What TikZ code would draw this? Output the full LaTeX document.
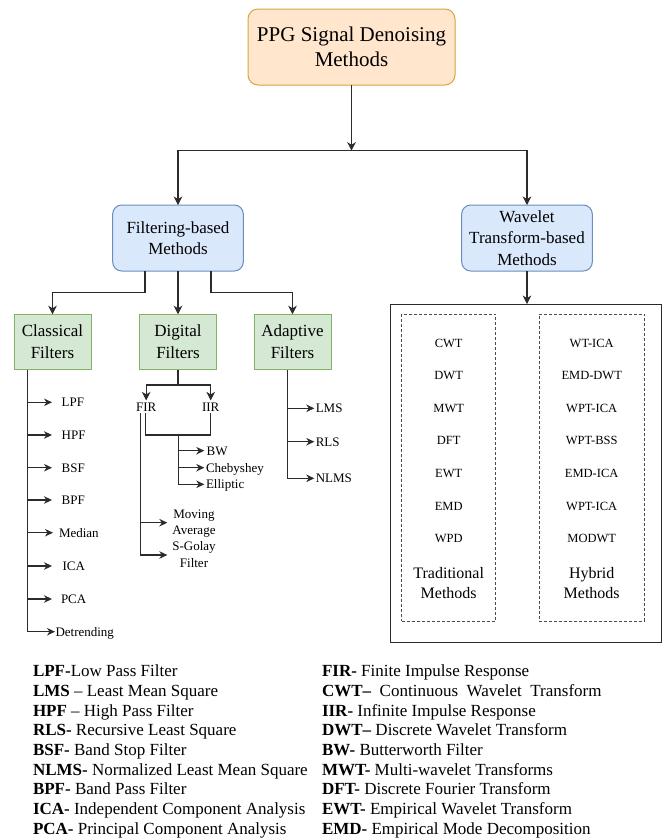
\documentclass[tikz,border=0pt]{standalone}
\usepackage{fontspec}
\setmainfont{Liberation Serif}
\usetikzlibrary{arrows.meta,calc}
\definecolor{lnc}{HTML}{2B2B2B}
\definecolor{orgF}{HTML}{FFE6CC}
\definecolor{orgB}{HTML}{D6A642}
\definecolor{bluF}{HTML}{DAE8FC}
\definecolor{bluB}{HTML}{6C8EBF}
\definecolor{grnF}{HTML}{D5E8D4}
\definecolor{grnB}{HTML}{82B366}
\begin{document}
\begin{tikzpicture}[x=1pt,y=-1pt,
  every node/.style={inner sep=0pt, outer sep=0pt},
  conn/.style={draw=lnc, line width=1.1pt},
  arr/.style={conn, -{Stealth[length=8.5pt,width=8.5pt,inset=2.5pt]}},
  sarr/.style={conn, -{Stealth[length=8pt,width=7.5pt,inset=2.5pt]}},
  topbox/.style={draw=orgB, fill=orgF, rounded corners=10pt, line width=1pt, align=center,
    minimum width=207pt, minimum height=76pt, font=\fontsize{21}{25}\selectfont},
  bluebox/.style={draw=bluB, fill=bluF, rounded corners=9pt, line width=1pt, align=center,
    minimum width=130.6pt, minimum height=66pt, font=\fontsize{17}{21.5}\selectfont},
  greenbox/.style={draw=grnB, fill=grnF, line width=1pt, align=center,
    minimum width=77pt, minimum height=55.5pt, font=\fontsize{17}{21.7}\selectfont},
  lab/.style={font=\fontsize{13}{16.3}\selectfont, text height=8.6pt, text depth=0pt, anchor=west},
  multi/.style={font=\fontsize{13}{16.3}\selectfont, align=center, inner xsep=5pt},
  item/.style={font=\fontsize{12.5}{15}\selectfont, text height=8.3pt, text depth=0pt},
  grp/.style={font=\fontsize{16}{20}\selectfont, align=center},
  dbox/.style={draw=lnc!85, dash pattern=on 3pt off 2pt, line width=0.9pt},
  bigbox/.style={draw=lnc, line width=1.1pt},
  leg/.style={font=\fontsize{17}{19.7}\selectfont, anchor=base west}
]
\useasboundingbox (0,0) rectangle (667,839);

% ---------- main boxes ----------
\node[topbox] (top) at (351.5,47) {PPG Signal Denoising\\Methods};
\node[bluebox] (filt) at (178,238) {Filtering-based\\Methods};
\node[bluebox] (wave) at (527,238) {Wavelet\\Transform-based\\Methods};
\node[greenbox] (class) at (52.5,342) {Classical\\Filters};
\node[greenbox] (digit) at (178,342) {Digital\\Filters};
\node[greenbox] (adapt) at (292.5,342) {Adaptive\\Filters};

\coordinate (j1) at (351.5,150.7);
\coordinate (fL) at (52.5,292.7);
\coordinate (fR) at (292.5,292.7);
\draw[arr] (top) -- (j1);
\draw[arr] (j1) -| (filt);
\draw[arr] (j1) -| (wave);
\draw[arr] ([xshift=-33pt]filt.south) |- (fL) -- (fL |- class.north);
\draw[arr] (filt.south) -- (filt.south |- digit.north);
\draw[arr] ([xshift=33pt]filt.south) |- (fR) -- (fR |- adapt.north);

% ---------- classical filters ----------
\node[lab, inner xsep=9.7pt] (lpf) at (52,402.3) {LPF};
\node[lab, inner xsep=9.7pt] (hpf) at (52,435) {HPF};
\node[lab, inner xsep=9.7pt] (bsf) at (52,467.7) {BSF};
\node[lab, inner xsep=9.7pt] (bpf) at (52,500) {BPF};
\node[lab, inner xsep=6pt] (med) at (53,532.7) {Median};
\node[lab, inner xsep=10.5pt] (ica) at (52,566) {ICA};
\node[lab, inner xsep=9pt] (pca) at (52,599) {PCA};
\node[lab, inner xsep=0.5pt] (detr) at (55,631.7) {Detrending};
\coordinate (cEnd) at (27.3,631.7);
\draw[conn] (class.south -| cEnd) -- (cEnd);
\foreach \n in {lpf,hpf,bsf,bpf,med,ica,pca,detr}
  \draw[sarr] (cEnd |- \n.west) -- (\n.west);

% ---------- digital filters ----------
\coordinate (d1) at (178,385);
\node[lab, anchor=center, inner ysep=2pt] (fir) at (146.2,406.7) {FIR};
\node[lab, anchor=center, inner ysep=2pt] (iir) at (210.7,406.7) {IIR};
\draw[conn] (digit.south) -- (d1);
\draw[arr] (d1) -| (fir.north);
\draw[arr] (d1) -| (iir.north);
\coordinate (j2) at (178.3,435);
\coordinate (j3) at (178.3,484.3);
\draw[conn] ([xshift=-0.5pt]fir.south) |- (j2) -| (iir.south);
\draw[conn] (j2) -- (j3);
\node[lab, inner xsep=2.4pt] (bw) at (204.3,450.7) {BW};
\node[lab, inner xsep=1.7pt] (cheb) at (204.3,467.7) {Chebyshey};
\node[lab, inner xsep=1.7pt] (ell) at (204.3,484.3) {Elliptic};
\foreach \n in {bw,cheb,ell}
  \draw[sarr] (j2 |- \n.west) -- (\n.west);
\node[multi] (mov) at (194,538.6) {Moving\\Average\\S-Golay\\Filter};
\coordinate (ma1) at (140.3,522.7);
\coordinate (ma2) at (140.3,555);
\draw[conn] ([xshift=-5.9pt]fir.south) -- (ma2);
\draw[sarr] (ma1) -- (ma1 -| mov.west);
\draw[sarr] (ma2) -- (ma2 -| mov.west);

% ---------- adaptive filters ----------
\node[lab, inner xsep=1.5pt] (lms) at (314.3,408.3) {LMS};
\node[lab, inner xsep=1.5pt] (rls) at (314.3,441.7) {RLS};
\node[lab, inner xsep=1.5pt] (nlms) at (314.3,478.3) {NLMS};
\coordinate (aEnd) at (287.3,478.3);
\draw[conn] (adapt.south -| aEnd) -- (aEnd);
\foreach \n in {lms,rls,nlms}
  \draw[sarr] (aEnd |- \n.west) -- (\n.west);

% ---------- wavelet ----------
\node[bigbox, minimum width=271pt, minimum height=338.3pt] (big) at (526.2,473.2) {};
\draw[arr] (wave.south) -- (wave.south |- big.north);
\node[dbox, minimum width=94pt, minimum height=307pt] (trad) at (448.7,467.5) {};
\node[dbox, minimum width=105.3pt, minimum height=307pt] (hyb) at (591.7,467.5) {};

\node[item] (t1) at (448.7,343.3) {CWT};
\node[item] (t2) at (448.7,375) {DWT};
\node[item] (t3) at (448.7,408.3) {MWT};
\node[item] (t4) at (448.7,440.7) {DFT};
\node[item] (t5) at (448.7,473.3) {EWT};
\node[item] (t6) at (448.7,506.7) {EMD};
\node[item] (t7) at (448.7,538.3) {WPD};
\node[grp] (tl) at (448.7,583.3) {Traditional\\Methods};

\node[item] (h1) at (591.7,343.3) {WT-ICA};
\node[item] (h2) at (591.7,375) {EMD-DWT};
\node[item] (h3) at (591.7,408.3) {WPT-ICA};
\node[item] (h4) at (591.7,440.7) {WPT-BSS};
\node[item] (h5) at (591.7,473.3) {EMD-ICA};
\node[item] (h6) at (591.7,506.7) {WPT-ICA};
\node[item] (h7) at (591.7,538.3) {MODWT};
\node[grp] (hl) at (591.7,583.3) {Hybrid\\Methods};

% ---------- legend ----------
\node[leg] (l1) at (33,676.7) {\textbf{LPF-}Low Pass Filter};
\node[leg] (l2) at (33,696.4) {\textbf{LMS} – Least Mean Square};
\node[leg] (l3) at (33,716.1) {\textbf{HPF} – High Pass Filter};
\node[leg] (l4) at (33,735.8) {\textbf{RLS-} Recursive Least Square};
\node[leg] (l5) at (33,755.5) {\textbf{BSF-} Band Stop Filter};
\node[leg] (l6) at (33,775.2) {\textbf{NLMS-} Normalized Least Mean Square};
\node[leg] (l7) at (33,794.9) {\textbf{BPF-} Band Pass Filter};
\node[leg] (l8) at (33,814.6) {\textbf{ICA-} Independent Component Analysis};
\node[leg] (l9) at (33,834.3) {\textbf{PCA-} Principal Component Analysis};

\node[leg] (r1) at (322,676.7) {\textbf{FIR-} Finite Impulse Response};
\node[leg] (r2) at (322,696.4) {\textbf{CWT–}\ \ Continuous\ \ Wavelet\ \ Transform};
\node[leg] (r3) at (322,716.1) {\textbf{IIR-} Infinite Impulse Response};
\node[leg] (r4) at (322,735.8) {\textbf{DWT–} Discrete Wavelet Transform};
\node[leg] (r5) at (322,755.5) {\textbf{BW-} Butterworth Filter};
\node[leg] (r6) at (322,775.2) {\textbf{MWT-} Multi-wavelet Transforms};
\node[leg] (r7) at (322,794.9) {\textbf{DFT-} Discrete Fourier Transform};
\node[leg] (r8) at (322,814.6) {\textbf{EWT-} Empirical Wavelet Transform};
\node[leg] (r9) at (322,834.3) {\textbf{EMD-} Empirical Mode Decomposition};
\end{tikzpicture}
\end{document}
